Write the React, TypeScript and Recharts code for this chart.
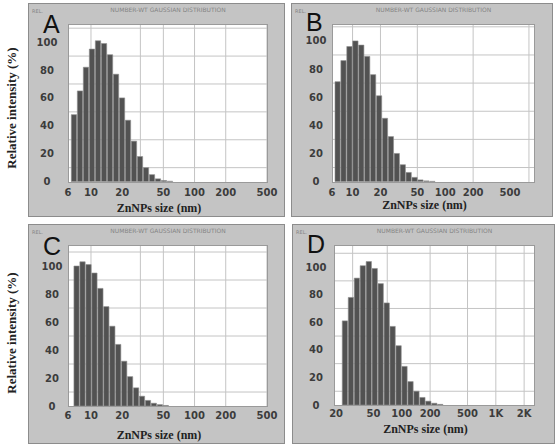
import { BarChart, Bar, XAxis, YAxis, CartesianGrid } from 'recharts'

// bin centres (nm) and relative intensity (%)
const sizesA = [6.9, 7.89, 9.01, 10.3, 11.77, 13.45, 15.37, 17.56, 20.07, 22.92, 26.19, 29.93, 34.2, 39.08, 44.65, 51.02, 58.3]
const valuesA = [48, 65, 82, 95, 101, 99, 91, 77, 60, 44, 29, 18, 10, 5, 2, 0.8, 0.3]

const sizesB = [6.95, 8.04, 9.32, 10.81, 12.51, 14.49, 16.78, 19.47, 22.55, 26.11, 30.23, 35.09, 40.61, 47.05, 54.46, 63.25, 73.22]
const valuesB = [71, 86, 96, 100, 97, 89, 76, 61, 45, 32, 20, 12, 6.5, 3, 1.2, 0.5, 0.2]

const sizesC = [7.31, 8.34, 9.53, 10.87, 12.41, 14.15, 16.17, 18.44, 21.07, 24.02, 27.45, 31.29, 35.75, 40.75, 46.57, 53.1]
const valuesC = [100, 103, 101, 95, 84, 71, 57, 44, 32, 21, 13, 7, 4, 2, 1, 0.4]

const sizesD = [25.0, 28.96, 33.53, 38.76, 44.9, 51.89, 60.08, 69.59, 80.43, 93.12, 107.6, 124.7, 144.1, 166.8, 192.8, 223.3, 258.0]
const valuesD = [61, 78, 92, 101, 104, 99, 88, 74, 57, 43, 28, 17, 10, 5.5, 2.8, 1.3, 0.5]

const xTicksNm = [6, 10, 20, 50, 100, 200, 500]
const xTicksD = [20, 50, 100, 200, 500, 1000, 2000]
const yTicks = [0, 20, 40, 60, 80, 100]
const gridY = [10, 20, 30, 40, 50, 60, 70, 80, 90, 100, 110]
const gridXA = [8, 10, 20, 30, 40, 50, 100, 200, 300, 500]
const gridXB = [8, 10, 20, 30, 40, 50, 100, 200, 500, 800]
const gridXD = [30, 50, 70, 100, 150, 200, 300, 500, 1000, 2000]

const TITLE = 'NUMBER-WT GAUSSIAN DISTRIBUTION'
const X_LABEL = 'ZnNPs size (nm)'
const Y_LABEL = 'Relative intensity (%)'

const tickStyle = { fontSize: 10, fontWeight: 700, fontFamily: 'DejaVu Sans', fill: '#3c3c3c' }

function fmtSize(v: number) {
  if (v >= 1000) return `${v / 1000}K`
  return `${v}`
}

type PanelProps = {
  letter: string
  sizes: number[]
  values: number[]
  box: { x: number; y: number; w: number; h: number }
  plot: { l: number; t: number; r: number; b: number }
  xDomain: [number, number]
  yDomain: [number, number]
  xTicks: number[]
  gridX: number[]
  yTickGap: number
  xLabelOffset: number
  xTickMargin: number
  letterTop: number
}

function Panel(p: PanelProps) {
  const data = p.sizes.map((s, i) => ({ size: s, v: p.values[i] }))
  const { box, plot } = p
  const plotCx = (plot.l + plot.r) / 2 - box.x
  return (
    <div
      style={{
        position: 'absolute',
        left: box.x,
        top: box.y,
        width: box.w,
        height: box.h,
        background: '#c4c4c4',
        boxShadow: 'inset 0 0 0 1px #8c8c8c',
      }}
    >
      <BarChart
        width={box.w}
        height={box.h}
        data={data}
        margin={{ top: plot.t - box.y, right: box.x + box.w - plot.r, left: 0, bottom: 0 }}
        barCategoryGap={0}
        barGap={0}
      >
        <CartesianGrid
          fill="#ffffff"
          stroke="#c4c4c4"
          horizontalValues={gridY}
          verticalValues={p.gridX}
        />
        <XAxis
          dataKey="size"
          type="number"
          scale="log"
          domain={p.xDomain}
          allowDataOverflow
          ticks={p.xTicks}
          tickFormatter={fmtSize}
          height={box.y + box.h - plot.b}
          tickLine={false}
          tickSize={0}
          tickMargin={p.xTickMargin}
          axisLine={false}
          tick={tickStyle}
          label={{
            value: X_LABEL,
            position: 'insideBottom',
            offset: p.xLabelOffset,
            dx: -9,
            style: { fontSize: 12, fontWeight: 700, fontFamily: 'Liberation Serif', fill: '#222' },
          }}
        />
        <YAxis
          type="number"
          domain={p.yDomain}
          allowDataOverflow
          ticks={yTicks}
          width={plot.l - box.x}
          tickLine={false}
          tickSize={0}
          tickMargin={p.yTickGap}
          axisLine={false}
          tick={{ ...tickStyle, textAnchor: 'middle' }}
        />
        <Bar dataKey="v" fill="#525252" stroke="#909090" strokeWidth={0.6} barSize={6} isAnimationActive={false} />
      </BarChart>
      <div
        style={{
          position: 'absolute',
          left: plot.l - box.x,
          top: plot.t - box.y,
          width: plot.r - plot.l,
          height: plot.b - plot.t,
          border: '1px solid #9a9a9a',
          boxSizing: 'border-box',
          pointerEvents: 'none',
        }}
      />
      <div
        style={{
          position: 'absolute',
          left: 15,
          top: p.letterTop,
          fontSize: 25,
          lineHeight: 0.8,
          fontFamily: 'Liberation Sans',
          color: '#111',
        }}
      >
        {p.letter}
      </div>
      <div
        style={{
          position: 'absolute',
          left: plotCx,
          top: 4,
          transform: 'translateX(-50%)',
          fontSize: 6,
          lineHeight: 1,
          whiteSpace: 'nowrap',
          fontFamily: 'DejaVu Sans',
          color: '#858585',
        }}
      >
        {TITLE}
      </div>
      <div
        style={{
          position: 'absolute',
          left: 4,
          top: 6,
          fontSize: 5,
          lineHeight: 1,
          fontFamily: 'DejaVu Sans',
          color: '#858585',
        }}
      >
        REL.
      </div>
    </div>
  )
}

function YLabel({ cx, cy }: { cx: number; cy: number }) {
  return (
    <div
      style={{
        position: 'absolute',
        left: cx,
        top: cy,
        transform: 'translate(-50%, -50%) rotate(-90deg)',
        whiteSpace: 'nowrap',
        fontSize: 13,
        fontWeight: 700,
        fontFamily: 'Liberation Serif',
        color: '#222',
      }}
    >
      {Y_LABEL}
    </div>
  )
}

export default function App() {
  return (
    <div style={{ position: 'absolute', left: 0, top: 0, width: 557, height: 444, background: '#fff', overflow: 'hidden' }}>
      <Panel
        letter="A"
        sizes={sizesA}
        values={valuesA}
        box={{ x: 28, y: 3, w: 257, h: 214 }}
        plot={{ l: 68, t: 24, r: 268, b: 183 }}
        xDomain={[6, 512]}
        yDomain={[-1, 113]}
        xTicks={xTicksNm}
        gridX={gridXA}
        yTickGap={21}
        xLabelOffset={5}
        xTickMargin={6}
        letterTop={11}
      />
      <Panel
        letter="B"
        sizes={sizesB}
        values={valuesB}
        box={{ x: 291, y: 3, w: 262, h: 214 }}
        plot={{ l: 332, t: 24, r: 535, b: 183 }}
        xDomain={[6, 930]}
        yDomain={[-1, 112]}
        xTicks={xTicksNm}
        gridX={gridXB}
        yTickGap={16}
        xLabelOffset={8}
        xTickMargin={6}
        letterTop={9}
      />
      <Panel
        letter="C"
        sizes={sizesC}
        values={valuesC}
        box={{ x: 28, y: 224, w: 257, h: 220 }}
        plot={{ l: 68, t: 245, r: 268, b: 407 }}
        xDomain={[6, 512]}
        yDomain={[-0.7, 115]}
        xTicks={xTicksNm}
        gridX={gridXA}
        yTickGap={16}
        xLabelOffset={5}
        xTickMargin={5}
        letterTop={12}
      />
      <Panel
        letter="D"
        sizes={sizesD}
        values={valuesD}
        box={{ x: 292, y: 224, w: 263, h: 220 }}
        plot={{ l: 334, t: 245, r: 535, b: 406 }}
        xDomain={[19, 2610]}
        yDomain={[-0.7, 116]}
        xTicks={xTicksD}
        gridX={gridXD}
        yTickGap={18}
        xLabelOffset={11}
        xTickMargin={4}
        letterTop={10}
      />
      <YLabel cx={12} cy={108} />
      <YLabel cx={12} cy={333} />
    </div>
  )
}
